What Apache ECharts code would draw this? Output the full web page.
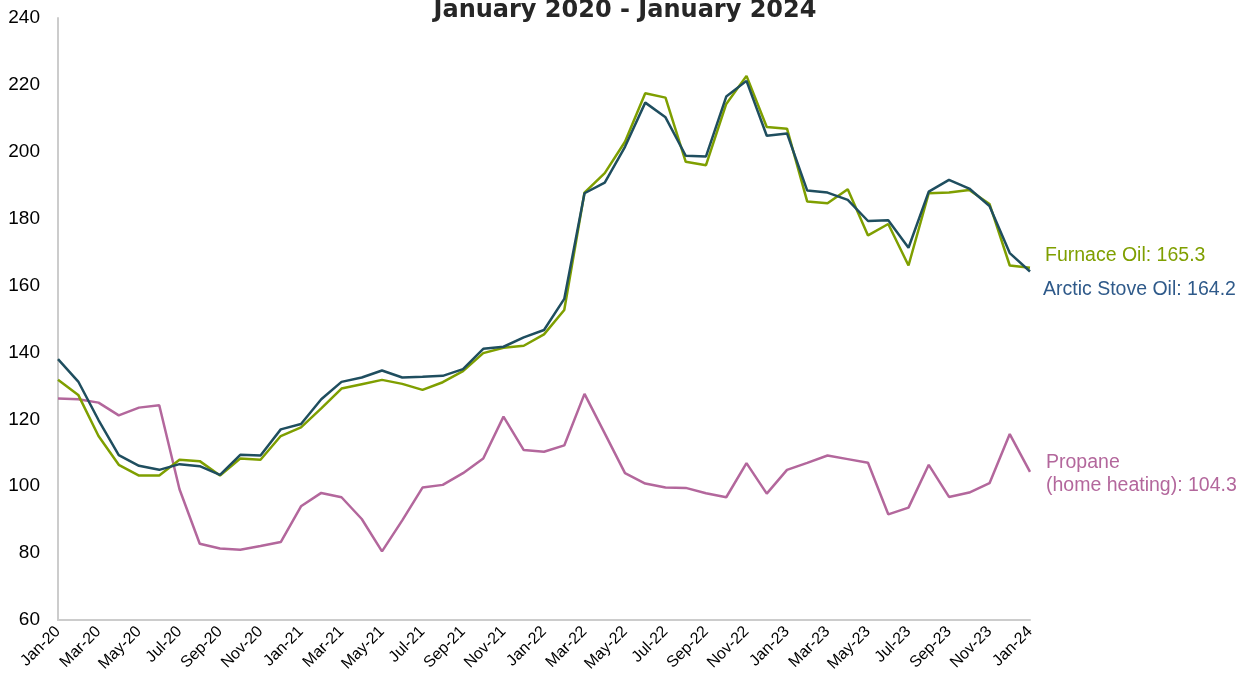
<!DOCTYPE html>
<html>
<head>
<meta charset="utf-8">
<script src="https://cdn.jsdelivr.net/npm/echarts@6/dist/echarts.min.js"></script>
<style>html,body{margin:0;padding:0;background:#fff}#c{width:1250px;height:690px}</style>
</head>
<body>
<div id="c"></div>
<script>
const months = ['Jan','Feb','Mar','Apr','May','Jun','Jul','Aug','Sep','Oct','Nov','Dec'];
const categories = [];
for (let y = 20; y <= 24; y++) for (let m = 0; m < 12; m++) { if (y === 24 && m > 0) break; categories.push(months[m] + '-' + y); }

const furnaceOil = [131.8,127.3,115.0,106.4,103.2,103.2,107.9,107.5,103.2,108.3,107.9,115.0,117.6,123.3,129.2,130.5,131.8,130.6,128.8,131.1,134.4,139.8,141.4,142.0,145.4,152.7,187.8,193.6,203.0,217.5,216.2,197.0,196.0,214.3,222.7,207.4,206.9,185.1,184.6,188.8,175.0,178.4,166.0,187.6,187.8,188.6,184.4,166.0,165.3];
const arcticStoveOil = [138.0,131.3,119.8,109.3,106.1,104.9,106.6,106.0,103.4,109.4,109.2,117.0,118.6,126.0,131.2,132.5,134.6,132.5,132.7,133.0,135.0,141.1,141.7,144.5,146.7,156.0,187.6,190.8,201.5,214.7,210.3,198.8,198.6,216.5,221.2,204.8,205.5,188.4,187.8,185.6,179.3,179.5,171.3,188.1,191.6,189.0,183.8,169.7,164.2];
const propane = [126.2,126.0,125.0,121.2,123.5,124.2,99.1,82.8,81.4,81.0,82.1,83.3,94.0,98.0,96.7,90.2,80.5,89.8,99.6,100.4,103.9,108.3,120.8,110.8,110.3,112.2,127.6,115.8,103.9,100.8,99.6,99.5,97.9,96.7,106.9,97.8,104.9,107.0,109.2,108.1,107.0,91.6,93.6,106.4,96.8,98.1,100.9,115.6,104.3];
const yTicks = [60, 240, 20];

const chart = echarts.init(document.getElementById('c'), null, {renderer: 'canvas'});
const lbl = (color, offset, text) => ({
  show: true, color: color, fontSize: 19.5, fontFamily: 'Liberation Sans, Arial, sans-serif',
  offset: offset, formatter: text, align: 'left', lineHeight: 23
});
chart.setOption({
  animation: false,
  title: {
    text: 'January 2020 - January 2024', left: 'center', top: -1, padding: 0,
    textStyle: {fontFamily: 'DejaVu Sans', fontWeight: 'bold', fontSize: 24, color: '#262626'}
  },
  grid: {left: 58, right: 220, top: 18, bottom: 70, containLabel: false},
  xAxis: {
    type: 'category', data: categories, boundaryGap: false,
    axisLine: {lineStyle: {color: '#cccccc', width: 2}},
    axisTick: {show: false},
    axisLabel: {interval: 1, rotate: 45, fontSize: 16, color: '#000', margin: 9,
      fontFamily: 'Liberation Sans, Arial, sans-serif'},
    splitLine: {show: false}
  },
  yAxis: {
    type: 'value', min: yTicks[0], max: yTicks[1], interval: yTicks[2],
    axisLine: {show: true, lineStyle: {color: '#cccccc', width: 2}},
    axisTick: {show: false},
    axisLabel: {fontSize: 19, color: '#000', margin: 18, fontFamily: 'Liberation Sans, Arial, sans-serif'},
    splitLine: {show: false}
  },
  series: [
    {name: 'Furnace Oil', type: 'line', data: furnaceOil, symbol: 'none', z: 3,
     lineStyle: {color: '#7f9f00', width: 2.5}, itemStyle: {color: '#7f9f00'},
     endLabel: lbl('#7f9f00', [7, -12], 'Furnace Oil: 165.3')},
    {name: 'Arctic Stove Oil', type: 'line', data: arcticStoveOil, symbol: 'none', z: 4,
     lineStyle: {color: '#1f4e5f', width: 2.5}, itemStyle: {color: '#1f4e5f'},
     endLabel: lbl('#2f5a8a', [5, 18], 'Arctic Stove Oil: 164.2')},
    {name: 'Propane', type: 'line', data: propane, symbol: 'none', z: 2,
     lineStyle: {color: '#b3679c', width: 2.5}, itemStyle: {color: '#b3679c'},
     endLabel: lbl('#b3679c', [8, 2], 'Propane\n(home heating): 104.3')}
  ]
});
</script>
</body>
</html>
